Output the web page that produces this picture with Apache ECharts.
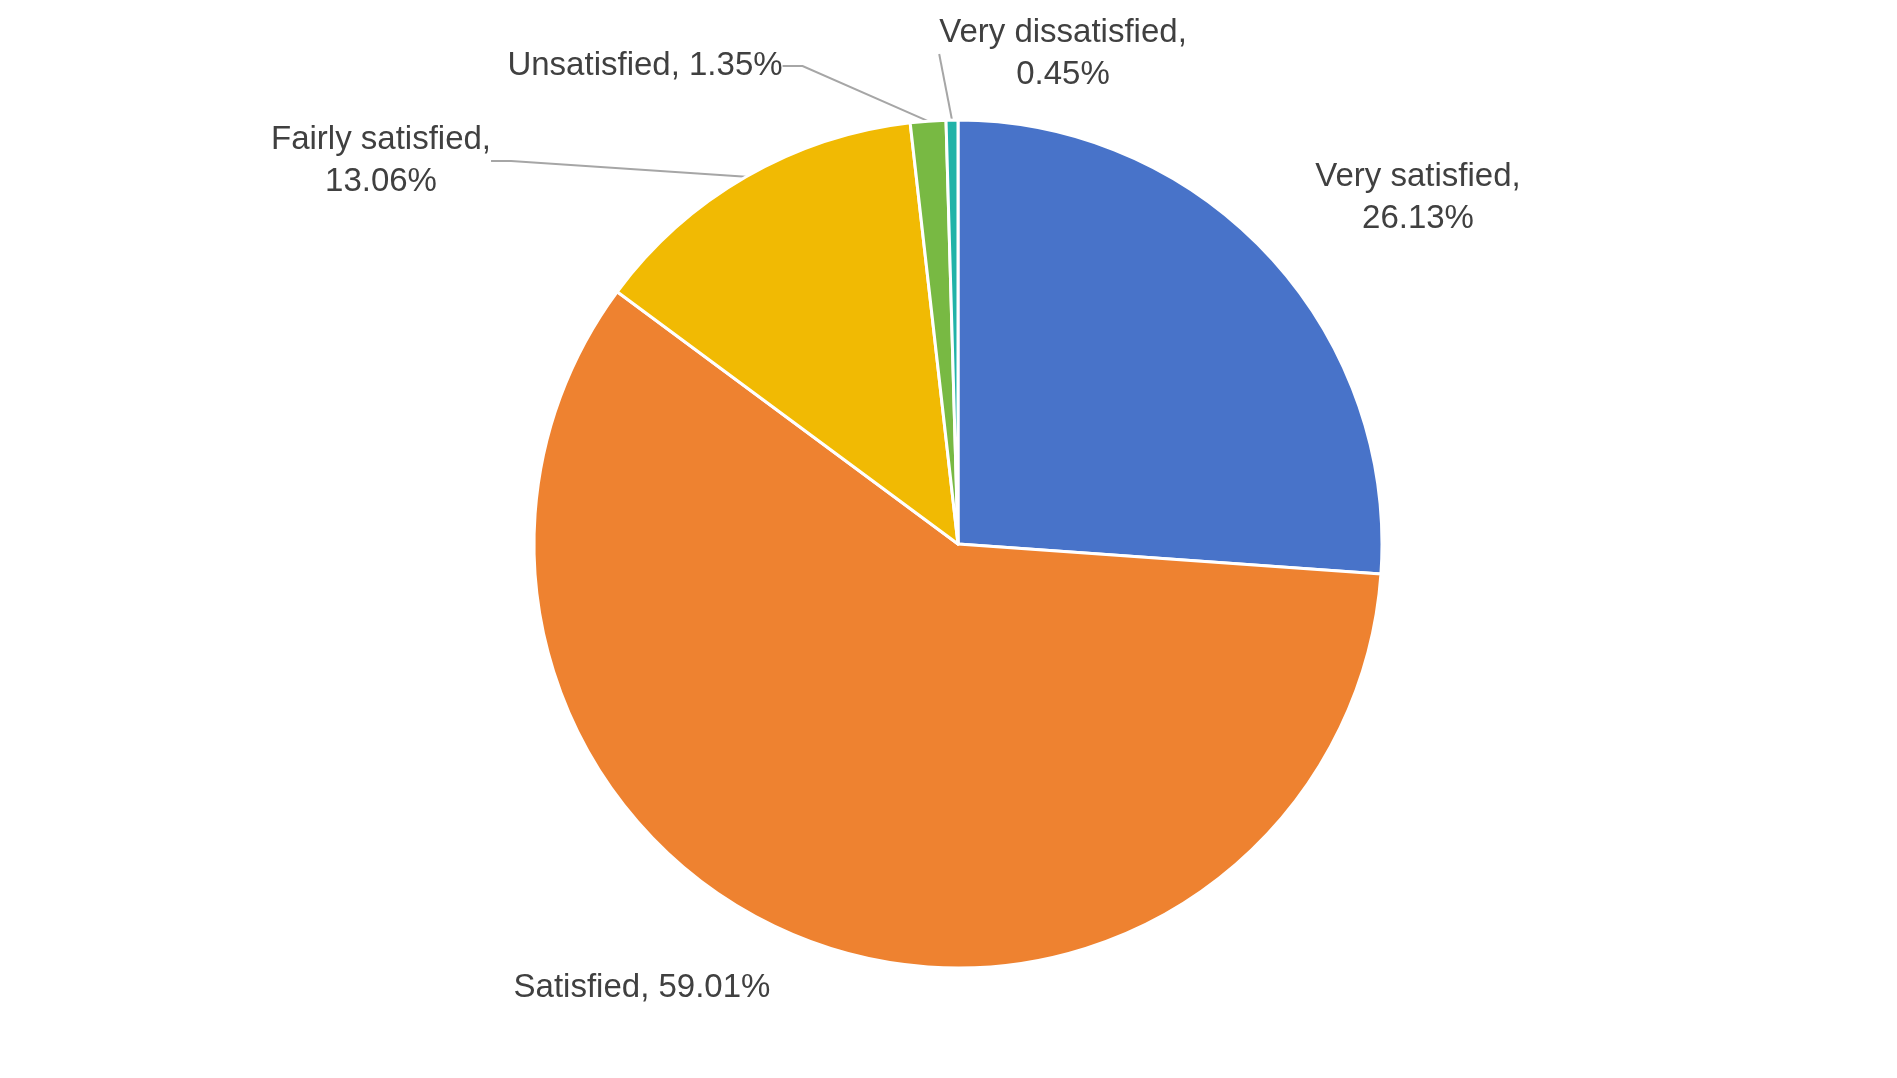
<!DOCTYPE html>
<html><head><meta charset="utf-8">
<script src="https://cdn.jsdelivr.net/npm/echarts@6/dist/echarts.min.js"></script>
<style>html,body{margin:0;background:#fff}#c{width:1897px;height:1078px}</style>
</head><body><div id="c"></div>
<script>
const categories = ['Very satisfied', 'Satisfied', 'Fairly satisfied', 'Unsatisfied', 'Very dissatisfied'];
const values = [26.13, 59.01, 13.06, 1.35, 0.45];
const labelTexts = ['Very satisfied,\n26.13%', 'Satisfied, 59.01%', 'Fairly satisfied,\n13.06%', 'Unsatisfied, 1.35%', 'Very dissatisfied,\n0.45%'];
const colors = ['#4873C9', '#EE8230', '#F1BA03', '#78B943', '#21B3A8'];
const labelPos = [[1418,198],[642,988],[381,161],[645,66],[1063,54]];
const chart = echarts.init(document.getElementById('c'));
chart.setOption({
  animation: false,
  series: [{
    type: 'pie',
    center: [958, 544],
    radius: [0, 424],
    startAngle: 90,
    clockwise: true,
    itemStyle: { borderColor: '#fff', borderWidth: 3 },
    label: {
      show: true, position: 'outside',
      fontFamily: 'Liberation Sans, Arial', fontSize: 33, color: '#404040', lineHeight: 42, align: 'center',
      formatter: p => labelTexts[p.dataIndex]
    },
    labelLine: { show: true, lineStyle: { color: '#A6A6A6', width: 2 }, length: 20, length2: 20 },
    labelLayout: p => ({ x: labelPos[p.dataIndex][0], y: labelPos[p.dataIndex][1], align: 'center', verticalAlign: 'middle' }),
    data: categories.map((c, i) => ({
      name: c, value: values[i],
      itemStyle: { color: colors[i] },
      labelLine: { show: i >= 2 }
    }))
  }]
});
</script></body></html>
